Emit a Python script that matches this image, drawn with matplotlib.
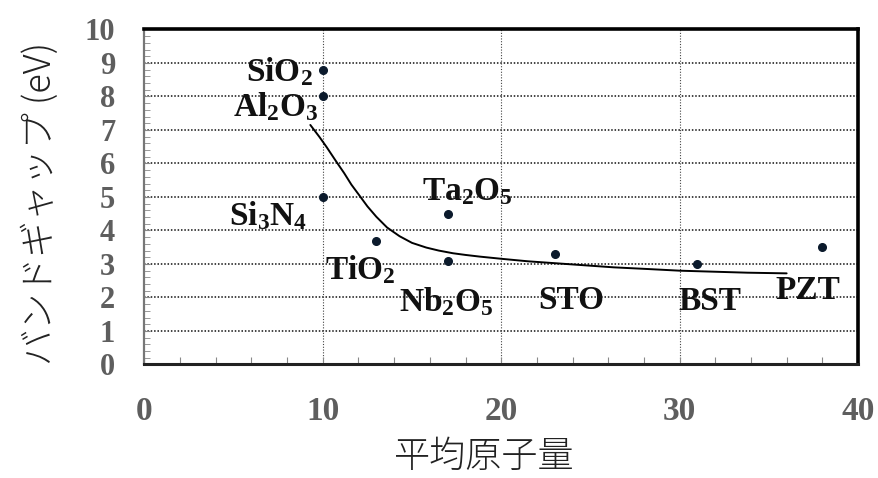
import matplotlib
matplotlib.use("Agg")
import matplotlib.pyplot as plt
from matplotlib.ticker import MultipleLocator

plt.rcParams["mathtext.fontset"] = "custom"
plt.rcParams["mathtext.rm"] = "Liberation Serif:bold"
plt.rcParams["mathtext.bf"] = "Liberation Serif:bold"
plt.rcParams["mathtext.it"] = "Liberation Serif:bold"

# Materials: average atomic mass vs. band gap
materials = ["SiO2", "Al2O3", "Si3N4", "TiO2", "Ta2O5", "Nb2O5", "STO", "BST", "PZT"]
avg_mass = [10.0, 10.0, 10.0, 13.0, 17.0, 17.0, 23.0, 31.0, 38.0]
band_gap = [8.8, 8.0, 5.0, 3.7, 4.5, 3.1, 3.3, 3.0, 3.5]

# Labels drawn next to each point (subscripts via mathtext)
label_text = [r"$\mathbf{SiO_2}$", r"$\mathbf{Al_2O_3}$", r"$\mathbf{Si_3N_4}$",
              r"$\mathbf{TiO_2}$", r"$\mathbf{Ta_2O_5}$", r"$\mathbf{Nb_2O_5}$",
              "STO", "BST", "PZT"]
label_x = [9.45, 9.75, 9.15, 10.1, 15.55, 16.9, 23.9, 31.7, 37.2]
label_y = [8.75, 7.7, 4.45, 2.82, 5.15, 1.86, 1.9, 1.88, 2.22]
label_ha = ["right", "right", "right", "left", "left", "center", "center", "center", "center"]

# Trend curve
trend_x = [9.3, 9.8, 10.2, 10.7, 11.2, 11.6, 12.1, 12.5, 13.0, 13.6, 14.3, 15.0, 15.8,
           16.5, 17.3, 18.0, 18.8, 20.1, 21.5, 23.1, 24.7, 26.3, 28.2, 30.0, 31.9, 33.8, 36.0]
trend_y = [7.15, 6.80, 6.50, 6.10, 5.71, 5.37, 5.01, 4.72, 4.41, 4.09, 3.83, 3.63, 3.49,
           3.40, 3.32, 3.27, 3.22, 3.15, 3.08, 3.02, 2.96, 2.90, 2.85, 2.80, 2.77, 2.74, 2.72]

x_ticks = [0, 10, 20, 30, 40]
y_ticks = [0, 1, 2, 3, 4, 5, 6, 7, 8, 9, 10]

fig = plt.figure(figsize=(8.79, 4.78), dpi=100)
ax = fig.add_axes([0.1643, 0.2375, 0.8118, 0.7008])

ax.set_xlim(0, 40)
ax.set_ylim(0, 10)
ax.set_xticks(x_ticks)
ax.set_yticks(y_ticks)
ax.xaxis.set_minor_locator(MultipleLocator(2))
ax.yaxis.set_minor_locator(MultipleLocator(0.2))

# grid
for yv in y_ticks[1:-1]:
    ax.axhline(yv, color="#111111", lw=1.1, ls=(0, (1.0, 1.2)), zorder=1)
for xv in x_ticks[1:-1]:
    ax.axvline(xv, color="#444444", lw=0.8, ls=(0, (1.0, 1.5)), zorder=1)

ax.plot(trend_x, trend_y, color="black", lw=1.4, zorder=2,
        solid_joinstyle="round", solid_capstyle="round")
ax.plot(avg_mass, band_gap, "o", color="#0b1a2c", ms=5.5, zorder=3)

for t, lx, ly, ha in zip(label_text, label_x, label_y, label_ha):
    ax.text(lx, ly, t, ha=ha, va="center", fontsize=24, fontweight="bold",
            family="Liberation Serif", color="#111111", zorder=4)

# frame
for side in ["top", "right"]:
    ax.spines[side].set_color("black")
    ax.spines[side].set_linewidth(2.6)
ax.spines["left"].set_color("#777777")
ax.spines["left"].set_linewidth(1.6)
ax.spines["bottom"].set_color("#222222")
ax.spines["bottom"].set_linewidth(2.2)

ax.tick_params(axis="both", which="both", direction="in", color="#888888")
ax.tick_params(axis="y", which="major", length=4, width=0.8, pad=21)
ax.tick_params(axis="y", which="minor", length=4, width=0.6)
ax.tick_params(axis="x", which="major", length=5, width=0.8, pad=23)
ax.tick_params(axis="x", which="minor", length=5, width=0.8)

for lab in ax.get_xticklabels():
    lab.set_fontfamily("Liberation Serif")
    lab.set_fontweight("bold")
    lab.set_fontsize(24)
    lab.set_color("#5e5e5e")
for lab in ax.get_yticklabels():
    lab.set_fontfamily("Liberation Serif")
    lab.set_fontweight("bold")
    lab.set_fontsize(22)
    lab.set_color("#5e5e5e")

fig.text(0.046, 0.575, "バンドギャップ (eV)", rotation=90, ha="center", va="center",
         fontsize=26, family=["Noto Sans CJK JP", "DejaVu Sans"], fontweight="light",
         color="#222222")
fig.text(0.551, 0.045, "平均原子量", ha="center", va="center",
         fontsize=26, family=["Noto Sans CJK JP", "DejaVu Sans"], fontweight="light",
         color="#222222")

fig.savefig("out.png", dpi=100)
